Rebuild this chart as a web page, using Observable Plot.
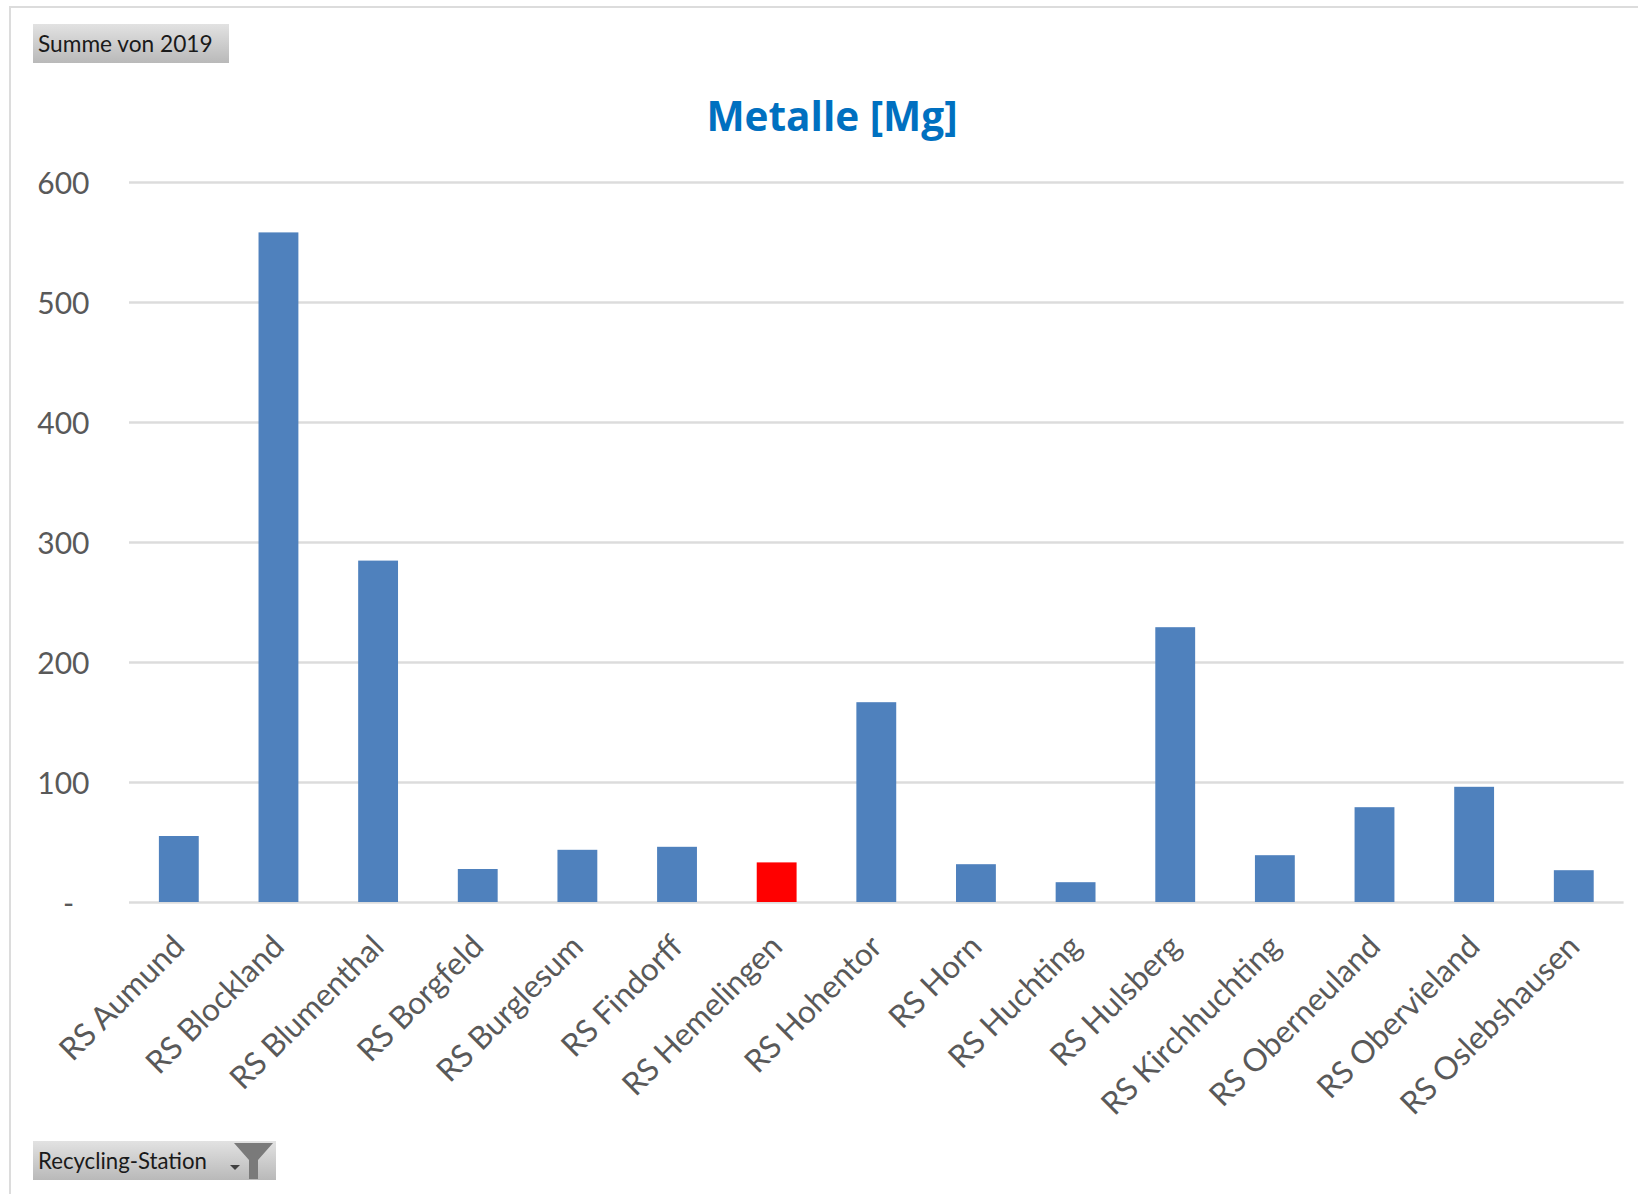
<!DOCTYPE html>
<html lang="de">
<head>
<meta charset="utf-8">
<script src="https://cdn.jsdelivr.net/npm/d3@7"></script>
<script src="https://cdn.jsdelivr.net/npm/@observablehq/plot@0.6"></script>
<style>
  html, body { margin: 0; padding: 0; background: #fff; overflow: hidden; }
  #page { position: relative; width: 1638px; height: 1194px; overflow: hidden; }
  #frame { position: absolute; left: 8.5px; top: 6px; right: 0; bottom: 0;
           border-left: 2.7px solid #dcdcdc; border-top: 2.7px solid #dcdcdc; pointer-events: none; }
  #header { position: relative; height: 160px; }
  #footer { position: relative; height: 64px; }
  .field { position: absolute; left: 33px; height: 39px; box-sizing: border-box; padding-left: 5px;
           background: linear-gradient(#e2e2e2, #b9b9b9); color: #1a1a1a;
           font: 22.7px/40px Lato, sans-serif; white-space: nowrap; }
  #sum { top: 24px; width: 196px; }
  #station { top: 11px; width: 243px; font-size: 22.2px; line-height: 40px; }
  #title { position: absolute; left: 0; width: 1664px; top: 90px; text-align: center;
           color: #0070c0; font: 700 40.5px/52px "Open Sans", sans-serif; }
  #station svg { position: absolute; left: 196px; top: 2px; }
  svg { display: block; }
</style>
</head>
<body>
<div id="page">
  <div id="frame"></div>
  <div id="header">
    <div class="field" id="sum">Summe von 2019</div>
    <div id="title">Metalle [Mg]</div>
  </div>
  <div id="chart"></div>
  <div id="footer">
    <div class="field" id="station">Recycling-Station
      <svg width="46" height="37" viewBox="0 0 46 37">
        <path d="M1 22h10l-5 5z" fill="#404040"/>
        <path d="M5 0h39l-15 17v19h-9V17z" fill="#7a7a7a"/>
      </svg>
    </div>
  </div>
</div>
<script>
const stations = ["RS Aumund","RS Blockland","RS Blumenthal","RS Borgfeld","RS Burglesum","RS Findorff","RS Hemelingen","RS Hohentor","RS Horn","RS Huchting","RS Hulsberg","RS Kirchhuchting","RS Oberneuland","RS Obervieland","RS Oslebshausen"];
const values2019 = [55, 558, 284.5, 27.5, 43.5, 46, 33, 166.5, 31.5, 16.5, 229, 39, 79, 96, 26.5];
const highlighted = "RS Hemelingen";
const yTicks = [0, 100, 200, 300, 400, 500, 600];

const blue = "#4f81bd", red = "#ff0000", grid = "#dcdcdc", ink = "#595959";
const rows = stations.map((name, i) => ({name, value: values2019[i]}));

const chart = Plot.plot({
  width: 1638,
  height: 970,
  marginLeft: 129,
  marginRight: 14.4,
  marginTop: 22,
  marginBottom: 228,
  style: {fontFamily: "Lato, sans-serif", color: ink, background: "transparent"},
  x: {domain: stations, paddingInner: 0.6, paddingOuter: 0.3, round: false, label: null},
  y: {domain: [0, 600], label: null},
  color: {type: "identity"},
  marks: [
    Plot.ruleY(yTicks, {stroke: grid, strokeWidth: 2.7}),
    Plot.barY(rows, {x: "name", y: "value", fill: d => d.name === highlighted ? red : blue}),
    Plot.axisY({
      ticks: yTicks, tickSize: 0, tickPadding: 40, fontSize: 30, fill: ink, label: null, dy: 1.5,
      tickFormat: d => d === 0 ? "-\u00a0\u00a0" : String(d)
    }),
    Plot.axisX({
      tickRotate: -45, tickSize: 0, tickPadding: 39, fontSize: 31.5, fill: ink, label: null
    })
  ]
});
document.getElementById("chart").appendChild(chart);
</script>
</body>
</html>
